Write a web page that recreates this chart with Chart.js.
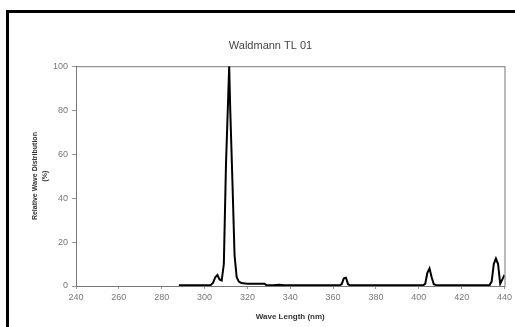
<!DOCTYPE html>
<html>
<head>
<meta charset="utf-8">
<script src="https://cdn.jsdelivr.net/npm/chart.js@4.4.0/dist/chart.umd.min.js"></script>
<style>
  html, body { margin: 0; padding: 0; background: #fff; }
  body { width: 515px; height: 327px; position: relative; overflow: hidden; }
  #frame { position: absolute; left: 6px; top: 10px; width: 600px; height: 400px;
           border-left: 3px solid #000; border-top: 3px solid #000; box-sizing: border-box; }
  #wrap { position: absolute; left: 0; top: 0; width: 515px; height: 327px; }
</style>
</head>
<body>
<div id="frame"></div>
<div id="wrap"><canvas id="spectrum"></canvas></div>
<script>
// Waldmann TL 01 spectrum
const wavelengths = [288, 290, 295, 300, 302, 303, 304, 305, 306, 307, 308, 309, 310, 311, 311.5, 312, 313, 314, 315, 316, 317, 318,
  320, 324, 328, 329, 332, 335, 336, 337, 345, 355, 363, 364, 365, 366, 367, 368, 380, 390, 402, 403, 404, 405, 406, 407, 408,
  415, 425, 433, 434, 435, 436, 437, 438, 439, 440];
const distribution = [0.3, 0.3, 0.3, 0.3, 0.3, 0.5, 1.5, 4, 5, 3, 2.5, 10, 55, 85, 100, 80, 48, 14, 4, 2, 1.5, 1.2,
  1, 1, 1, 0.3, 0.3, 0.6, 0.5, 0.3, 0.3, 0.3, 0.3, 0.8, 3.5, 3.8, 0.8, 0.3, 0.3, 0.3, 0.3, 1, 6, 8, 4, 0.8, 0.5,
  0.3, 0.3, 0.3, 2, 10, 12.5, 10, 1, 3, 5];
const xTicks = [240, 260, 280, 300, 320, 340, 360, 380, 400, 420, 440];
const yTicks = [0, 20, 40, 60, 80, 100];

const points = wavelengths.map((w, i) => ({ x: w, y: distribution[i] }));

// gray border round the plot area, like the Excel original
const plotBorder = {
  id: 'plotBorder',
  beforeDatasetsDraw(chart) {
    const a = chart.chartArea, c = chart.ctx;
    c.save();
    c.strokeStyle = '#777';
    c.lineWidth = 1;
    c.strokeRect(a.left + 0.5, a.top + 0.5, a.right - a.left, a.bottom - a.top);
    c.restore();
  }
};

const tickFont = { family: 'Arial, "Liberation Sans", sans-serif', size: 9 };

new Chart(document.getElementById('spectrum'), {
  type: 'line',
  data: {
    datasets: [{
      data: points,
      borderColor: '#000',
      borderWidth: 2,
      pointRadius: 0,
      tension: 0,
      fill: false
    }]
  },
  options: {
    responsive: true,
    maintainAspectRatio: false,
    animation: false,
    layout: { padding: { top: 39, right: 4, left: 30, bottom: 5 } },
    plugins: {
      legend: { display: false },
      tooltip: { enabled: false },
      title: {
        display: true,
        text: 'Waldmann TL 01',
        color: '#444',
        font: { family: 'Arial, "Liberation Sans", sans-serif', size: 11, weight: 'normal' },
        padding: { top: 0, bottom: 14 }
      }
    },
    scales: {
      x: {
        type: 'linear',
        min: 240, max: 440,
        afterBuildTicks(axis) { axis.ticks = xTicks.map(v => ({ value: v })); },
        afterFit(axis) { axis.height = 36; },
        border: { color: '#000', width: 1 },
        grid: { drawOnChartArea: false, tickLength: 3, color: '#999' },
        ticks: { color: '#777', font: tickFont, maxRotation: 0, padding: 3 },
        title: {
          display: true, text: 'Wave Length (nm)', color: '#333',
          font: { family: 'Arial, "Liberation Sans", sans-serif', size: 8, weight: 'bold' },
          padding: { top: 2, bottom: 0 }
        }
      },
      y: {
        min: 0, max: 100,
        afterBuildTicks(axis) { axis.ticks = yTicks.map(v => ({ value: v })); },
        afterFit(axis) { axis.width = 46; },
        border: { color: '#000', width: 1 },
        grid: { drawOnChartArea: false, tickLength: 4, color: '#999' },
        ticks: { color: '#777', font: tickFont, padding: 4 },
        title: {
          display: true, text: ['Relative Wave Distribution', '(%)'], color: '#333',
          font: { family: 'Arial, "Liberation Sans", sans-serif', size: 7, weight: 'bold', lineHeight: 1.4 },
          padding: { top: 0, bottom: 0 }
        }
      }
    }
  },
  plugins: [plotBorder]
});
</script>
</body>
</html>
